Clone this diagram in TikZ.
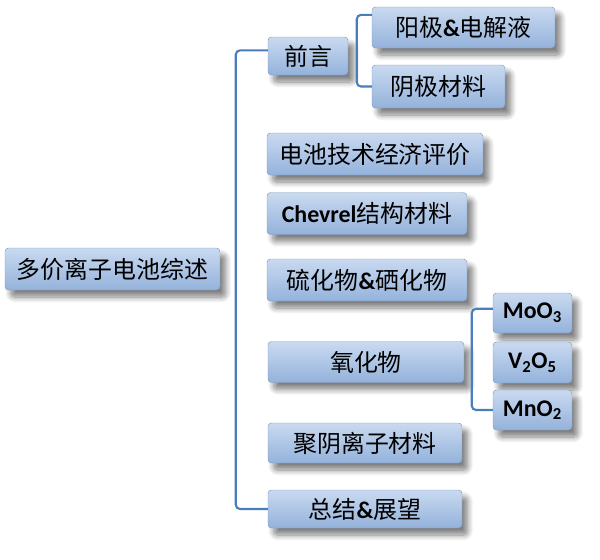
\documentclass[tikz,border=0pt]{standalone}
\usepackage{fontspec}
\setmainfont{Noto Sans CJK SC}
\newfontfamily\lat{Carlito}
\usetikzlibrary{shadows.blur}
\definecolor{boxtop}{HTML}{C9DAF0}
\definecolor{boxbot}{HTML}{94B2DB}
\definecolor{linkblue}{HTML}{4A7EBB}
\begin{document}
\begin{tikzpicture}[x=0.025cm,y=-0.025cm,
  item/.style={rounded corners=2.5pt,top color=boxtop,bottom color=boxbot,
    draw=boxbot!85!black,line width=0.3pt,inner sep=0pt,
    blur shadow={shadow xshift=4pt,shadow yshift=-5pt,shadow opacity=50,shadow blur radius=4pt,shadow blur steps=8},
    font=\fontsize{17}{19}\selectfont},
  wh/.style 2 args={minimum width=#1*0.025cm,minimum height=#2*0.025cm},
  link/.style={linkblue,line width=1.5pt,rounded corners=3pt}]
\useasboundingbox (0,0) rectangle (600,560);
% root
\node[item,wh={215}{42}] (root) at (112.5,269) {多价离子电池综述};
% first level
\node[item,wh={80}{38}] (qy) at (308,56) {前言};
\node[item,wh={216}{42}] (jj) at (375,154) {电池技术经济评价};
\node[item,wh={200}{42}] (chev) at (367,213.5) {{\lat\bfseries Chevrel}结构材料};
\node[item,wh={200}{42}] (lh) at (367,280) {硫化物{\lat\bfseries \&}硒化物};
\node[item,wh={196}{41}] (yh) at (366,362) {氧化物};
\node[item,wh={194}{40}] (jy) at (365,443) {聚阴离子材料};
\node[item,wh={194}{38}] (zj) at (365,509) {总结{\lat\bfseries \&}展望};
% second level
\node[item,wh={183}{41}] (yj) at (463.5,27.5) {阳极{\lat\bfseries \&}电解液};
\node[item,wh={133}{43}] (yinj) at (438.5,86.5) {阴极材料};
\node[item,wh={79}{40},font=\lat\bfseries\fontsize{17}{19}\selectfont] (mo) at (532.5,313) {MoO\textsubscript{3}};
\node[item,wh={79}{41},font=\lat\bfseries\fontsize{17}{19}\selectfont] (vo) at (532.5,362.5) {V\textsubscript{2}O\textsubscript{5}};
\node[item,wh={79}{40},font=\lat\bfseries\fontsize{17}{19}\selectfont] (mn) at (532.5,410) {MnO\textsubscript{2}};
% brackets
\draw[link] ([yshift=4pt]qy.west) -- ++(-32,0) |- (zj.west);
\draw[link] ([yshift=9pt]yj.west) -- ++(-15,0) |- (yinj.west);
\draw[link] ([yshift=3pt]mo.west) -- ++(-21,0) |- (mn.west);
\end{tikzpicture}
\end{document}
